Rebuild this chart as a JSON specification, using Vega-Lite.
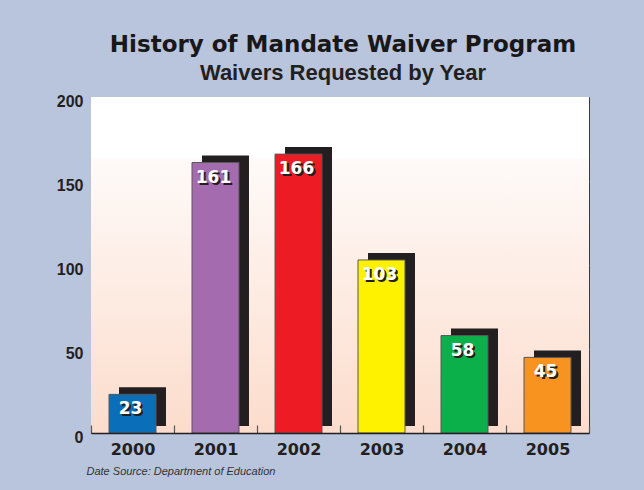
{
  "$schema": "https://vega.github.io/schema/vega-lite/v6.json",
  "autosize": {"type": "none"},
  "width": 498,
  "height": 336,
  "padding": {"left": 91, "top": 97, "right": 55, "bottom": 57},
  "background": "#B8C5DD",
  "title": {
    "text": "History of Mandate Waiver Program",
    "subtitle": "Waivers Requested by Year",
    "anchor": "middle",
    "frame": "group",
    "dx": 3,
    "offset": 9,
    "font": "DejaVu Sans",
    "fontSize": 23,
    "fontWeight": "bold",
    "color": "#1A1718",
    "subtitleFont": "Liberation Sans",
    "subtitleFontSize": 22,
    "subtitleFontWeight": "bold",
    "subtitleColor": "#231F20",
    "subtitlePadding": 6
  },
  "config": {
    "view": {"stroke": "#3a3a3a", "strokeWidth": 1},
    "axis": {"labelColor": "#231F20"}
  },
  "datasets": {
    "bars": [
      {"year": "2000", "waivers": 23},
      {"year": "2001", "waivers": 161},
      {"year": "2002", "waivers": 166},
      {"year": "2003", "waivers": 103},
      {"year": "2004", "waivers": 58},
      {"year": "2005", "waivers": 45}
    ],
    "panel": [{"lo": 0, "hi": 200}]
  },
  "layer": [
    {
      "data": {"name": "panel"},
      "mark": {
        "type": "rect",
        "fill": {
          "gradient": "linear",
          "x1": 0, "y1": 0, "x2": 0, "y2": 1,
          "stops": [
            {"offset": 0, "color": "#FFFFFF"},
            {"offset": 0.18, "color": "#FFFFFF"},
            {"offset": 0.19, "color": "#FEFAF8"},
            {"offset": 1, "color": "#FCDCCC"}
          ]
        }
      },
      "encoding": {
        "y": {"field": "hi", "type": "quantitative", "scale": {"domain": [0, 200], "nice": false}},
        "y2": {"field": "lo"}
      }
    },
    {
      "data": {"name": "bars"},
      "mark": {"type": "bar", "color": "#231F20", "width": {"band": 0.566}, "xOffset": 10, "x2Offset": 10, "yOffset": -7, "y2Offset": -7},
      "encoding": {
        "x": {"field": "year", "type": "nominal"},
        "y": {"field": "waivers", "type": "quantitative"}
      }
    },
    {
      "data": {"name": "bars"},
      "mark": {"type": "bar", "width": {"band": 0.566}, "stroke": "#58595B", "strokeWidth": 1},
      "encoding": {
        "x": {
          "field": "year",
          "type": "nominal",
          "scale": {"paddingInner": 0, "paddingOuter": 0},
          "axis": {
            "title": "Date Source:  Department of Education",
            "titleFont": "Liberation Sans",
            "titleFontSize": 11,
            "titleFontStyle": "italic",
            "titleFontWeight": "normal",
            "titleColor": "#333333",
            "titleAnchor": "start",
            "titleAlign": "left",
            "titleBaseline": "alphabetic",
            "titleX": -5,
            "titleY": 41,
            "labelAngle": 0,
            "labelAlign": "center",
            "labelFont": "DejaVu Sans",
            "labelFontSize": 16,
            "labelFontWeight": "bold",
            "labelPadding": 24,
            "tickBand": "extent",
            "tickSize": -8,
            "tickColor": "#555555",
            "tickWidth": 1.2,
            "domainColor": "#231F20",
            "domainWidth": 1.5,
            "zindex": 1
          }
        },
        "y": {
          "field": "waivers",
          "type": "quantitative",
          "axis": {
            "title": null,
            "values": [0, 50, 100, 150, 200],
            "ticks": false,
            "domain": false,
            "grid": true,
            "gridColor": "#7a7a7a",
            "gridWidth": 1.2,
            "labelFont": "Liberation Sans",
            "labelFontSize": 16,
            "labelFontWeight": "bold",
            "labelPadding": 8,
            "labelOffset": 4
          }
        },
        "color": {
          "field": "year",
          "type": "nominal",
          "legend": null,
          "scale": {
            "domain": ["2000", "2001", "2002", "2003", "2004", "2005"],
            "range": ["#0A6FB8", "#A46CAE", "#ED1C24", "#FFF200", "#0CB04A", "#F7931E"]
          }
        }
      }
    },
    {
      "data": {"name": "bars"},
      "mark": {"type": "text", "font": "DejaVu Sans", "fontSize": 17, "fontWeight": "bold", "color": "#231F20", "baseline": "alphabetic", "dx": 0, "dy": 22},
      "encoding": {
        "x": {"field": "year", "type": "nominal"},
        "y": {"field": "waivers", "type": "quantitative"},
        "text": {"field": "waivers", "type": "quantitative"}
      }
    },
    {
      "data": {"name": "bars"},
      "mark": {"type": "text", "font": "DejaVu Sans", "fontSize": 17, "fontWeight": "bold", "color": "#FFFFFF", "baseline": "alphabetic", "dx": -2, "dy": 20},
      "encoding": {
        "x": {"field": "year", "type": "nominal"},
        "y": {"field": "waivers", "type": "quantitative"},
        "text": {"field": "waivers", "type": "quantitative"}
      }
    }
  ]
}
